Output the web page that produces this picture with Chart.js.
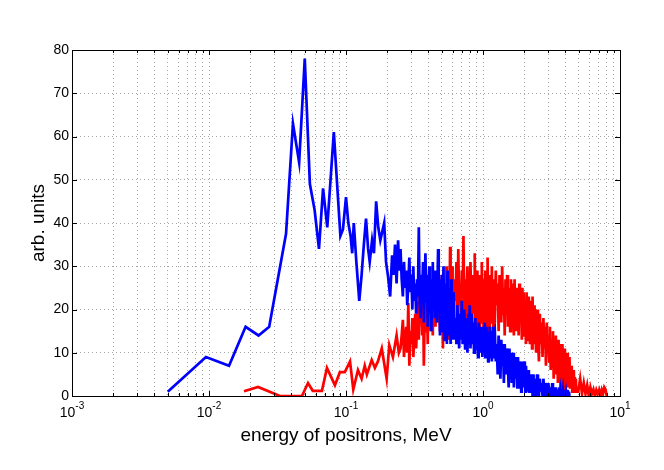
<!doctype html>
<html>
<head>
    <title>Positron spectra</title>
    <script src="https://cdn.jsdelivr.net/npm/chart.js"></script>
    <style>
        body { margin: 0; padding: 0; background: #ffffff; }
        #spectrum { display: block; }
    </style>
</head>
<body>
    <canvas id="spectrum" width="664" height="470"></canvas>
    <script>
        // blue spectrum, low energy part (MeV, arb. units)
        var blueLowEnergy = [0.005, 0.0095, 0.014, 0.0185, 0.023, 0.0275, 0.0365, 0.041, 0.0455, 0.05,
            0.0545, 0.059, 0.0635, 0.068, 0.073, 0.0815, 0.091, 0.095, 0.1, 0.104,
            0.108, 0.111, 0.114, 0.119, 0.125, 0.13, 0.135, 0.14, 0.145, 0.149,
            0.155, 0.16, 0.166, 0.172, 0.178, 0.184, 0.19, 0.196, 0.203, 0.21,
            0.217, 0.222, 0.228, 0.234, 0.24, 0.245];
        var blueLowCounts = [1, 9, 7, 16, 14, 16, 37.5, 63, 54, 78,
            49, 43, 34, 48, 39, 61, 37, 38.5, 46, 40,
            37, 33, 40, 31, 22, 28, 35, 41, 34, 31,
            36, 33, 45, 39, 36, 38, 40, 31, 27.5, 23,
            32.5, 28, 35, 26, 36, 29];

        // red spectrum, low energy part
        var redLowEnergy = [0.018, 0.0228, 0.033, 0.0477, 0.0528, 0.0572, 0.0667, 0.0726, 0.083, 0.0902,
            0.098, 0.107, 0.113, 0.1223, 0.13, 0.137, 0.142, 0.154, 0.1625, 0.171,
            0.1825, 0.198, 0.207, 0.22, 0.234, 0.243];
        var redLowCounts = [1.1, 2.1, 0, 0, 3, 1.2, 1.2, 6.5, 2.5, 5.5,
            5.5, 8, 1.5, 6, 4, 7, 5, 8.3, 6.5, 8,
            11, 4, 11.8, 9, 14, 10];

        // shared energies of the dense (noisy) part
        var denseEnergy = [
            0.250, 0.255, 0.260, 0.265, 0.270, 0.275, 0.280, 0.285, 0.290, 0.295,
            0.300, 0.305, 0.310, 0.315, 0.320, 0.325, 0.330, 0.335, 0.340, 0.345,
            0.350, 0.355, 0.360, 0.365, 0.370, 0.375, 0.380, 0.385, 0.390, 0.395,
            0.400, 0.405, 0.410, 0.415, 0.420, 0.425, 0.430, 0.435, 0.440, 0.445,
            0.450, 0.455, 0.460, 0.465, 0.470, 0.475, 0.480, 0.485, 0.490, 0.495,
            0.500, 0.505, 0.510, 0.515, 0.520, 0.525, 0.530, 0.535, 0.540, 0.545,
            0.550, 0.555, 0.560, 0.565, 0.570, 0.575, 0.580, 0.585, 0.590, 0.595,
            0.600,
            0.61, 0.62, 0.63, 0.64, 0.65, 0.66, 0.67, 0.68, 0.69, 0.70,
            0.71, 0.72, 0.73, 0.74, 0.75, 0.76, 0.77, 0.78, 0.79, 0.80,
            0.81, 0.82, 0.83, 0.84, 0.85, 0.86, 0.87, 0.88, 0.89, 0.90,
            0.91, 0.92, 0.93, 0.94, 0.95, 0.96, 0.97, 0.98, 0.99, 1.00,
            1.01, 1.02, 1.03, 1.04, 1.05, 1.06, 1.07, 1.08, 1.09, 1.10,
            1.11, 1.12, 1.13, 1.14, 1.15, 1.16, 1.17, 1.18, 1.19, 1.20,
            1.22, 1.24, 1.26, 1.28, 1.30, 1.32, 1.34, 1.36, 1.38, 1.40,
            1.42, 1.44, 1.46, 1.48, 1.50, 1.52, 1.54, 1.56, 1.58, 1.60,
            1.62, 1.64, 1.66, 1.68, 1.70, 1.72, 1.74, 1.76, 1.78, 1.80,
            1.82, 1.84, 1.86, 1.88, 1.90, 1.92, 1.94, 1.96, 1.98, 2.00,
            2.02, 2.04, 2.06, 2.08, 2.10, 2.12, 2.14, 2.16, 2.18, 2.20,
            2.22, 2.24, 2.26, 2.28, 2.30, 2.32, 2.34, 2.36, 2.38, 2.40,
            2.44, 2.48, 2.52, 2.56, 2.60, 2.64, 2.68, 2.72, 2.76, 2.80,
            2.84, 2.88, 2.92, 2.96, 3.00, 3.04, 3.08, 3.12, 3.16, 3.20,
            3.24, 3.28, 3.32, 3.36, 3.40, 3.44, 3.48, 3.52, 3.56, 3.60,
            3.64, 3.68, 3.72, 3.76, 3.80, 3.84, 3.88, 3.92, 3.96, 4.00,
            4.04, 4.08, 4.12, 4.16, 4.20, 4.24, 4.28, 4.32, 4.36, 4.40,
            4.44, 4.48, 4.52, 4.56, 4.60, 4.64, 4.68, 4.72, 4.76, 4.80,
            4.96, 5.12, 5.28, 5.44, 5.60, 5.76, 5.92, 6.08, 6.24, 6.40,
            6.56, 6.72, 6.88, 7.04, 7.20, 7.36, 7.52, 7.68, 7.84, 8.00];

        var blueDenseCounts = [
            34, 27, 23, 31, 25, 29, 21, 26, 32, 24,
            28, 20, 30, 22, 26, 19, 27, 23, 39, 21,
            18, 28, 24, 31, 17, 26, 33, 22, 28, 16,
            25, 30, 19, 27, 15, 24, 31, 20, 26, 18,
            29, 22, 17, 25, 34, 21, 27, 14, 23, 19,
            28, 15, 24, 30, 13, 21, 26, 16, 23, 12,
            29, 19, 14, 25, 17, 22, 12, 27, 15, 20,
            13,
            24, 13, 18, 12, 21, 16, 11, 19, 13, 22,
            12, 17, 20, 11, 18, 14, 10, 19, 12, 21,
            11, 16, 19, 12, 17, 10, 14, 18, 11, 16,
            12, 9, 17, 13, 10, 16, 11, 15, 9, 16,
            10, 15, 17, 9, 13, 16, 9, 15, 8, 14,
            10, 16, 9, 13, 15, 8, 12, 16, 9, 14,
            15, 8, 12, 5, 14, 9, 4, 13, 7, 12,
            3, 12, 8, 5, 11, 7, 2, 11, 5, 10,
            3, 9, 10, 2, 7, 9, 4, 8, 2, 9,
            5, 2, 8, 6, 1, 8, 3, 7, 2, 8,
            4, 1, 7, 3, 6, 1, 5, 6, 1, 4,
            5, 1, 3, 5, 0, 5, 2, 4, 0, 4,
            0, 5, 2, 0, 4, 1, 3, 0, 4, 1,
            0, 3, 2, 0, 3, 1, 0, 2, 0, 3,
            1, 0, 2, 0, 2, 0.5, 0, 1.5, 0, 2,
            0, 1.4, 0, 1, 0, 1.4, 0, 0.5, 1.4, 0,
            1, 0, 1.4, 0, 0.5, 1, 0, 0];

        var redDenseCounts = [
            11, 14, 17.6, 9, 13, 16, 10, 21.5, 7, 15,
            12, 18, 9, 14, 19, 11, 16, 22, 13, 24.5,
            17, 20, 14, 23, 7, 18, 29, 15, 21, 12,
            24, 17, 22, 15, 25, 19, 14, 23, 18, 26,
            16, 21, 28, 17, 23, 19, 27, 15, 22, 18,
            28, 20, 11, 24, 19, 27, 16, 23, 30, 18,
            25, 21, 13, 27, 20, 34.5, 22, 26, 17, 30,
            21,
            18, 27, 22, 31, 17, 34, 21, 26, 16, 29,
            23, 37, 19, 27, 17, 25, 30, 18, 26, 21,
            31, 22, 15, 28, 19, 25, 33, 18, 24, 16,
            29, 21, 26, 14, 28, 23, 17, 31, 20, 27,
            14, 25, 21, 29, 17, 26, 15, 32, 20, 24,
            15, 28, 21, 27, 17, 30, 19, 23, 15, 27,
            17, 29, 21, 26, 15, 28, 22, 17, 30, 19,
            25, 14, 27, 20, 28, 16, 25, 21, 15, 27,
            17, 26, 22, 14, 27, 19, 24, 15, 25, 20,
            14, 26, 17, 23, 21, 13, 25, 16, 24, 14,
            22, 18, 12, 24, 15, 21, 13, 23, 17, 12,
            22, 14, 20, 11, 23, 16, 12, 21, 14, 19,
            10, 20, 13, 8, 19, 12, 17, 9, 18, 11,
            16, 7, 17, 10, 14, 8, 16, 6, 13, 9,
            15, 4, 12, 7, 14, 5, 11, 3, 13, 5,
            12, 2, 10, 5, 12, 1, 9, 4, 11, 1,
            8, 5, 10, 2, 7, 4, 9, 2, 6, 4,
            7, 1, 5, 3, 6, 1, 4.4, 2, 4, 1,
            1, 4, 0.5, 3, 0.5, 2.5, 0, 2, 0.5, 1.5,
            0, 1.4, 0.5, 1.4, 0, 1.4, 0.5, 2, 1.5, 0];

        var xDecades = [-3, -2, -1, 0, 1];
        var xMinorSteps = [1, 2, 3, 4, 5, 6, 7, 8, 9];
        var yTicks = [0, 10, 20, 30, 40, 50, 60, 70, 80];

        var FONT = '"Liberation Sans", Arial, Helvetica, sans-serif';

        function toPoints(energy, counts) {
            var pts = [];
            for (var i = 0; i < counts.length; i++) pts.push({ x: energy[i], y: counts[i] });
            return pts;
        }

        var bluePoints = toPoints(blueLowEnergy, blueLowCounts).concat(toPoints(denseEnergy, blueDenseCounts));
        var redPoints = toPoints(redLowEnergy, redLowCounts).concat(toPoints(denseEnergy, redDenseCounts));

        var xGridValues = [];
        xDecades.forEach(function (e) {
            if (e === 1) { xGridValues.push(10); return; }
            xMinorSteps.forEach(function (m) { xGridValues.push(m * Math.pow(10, e)); });
        });

        // MATLAB style box, inward ticks and 10^n labels
        var axesBox = {
            id: 'axesBox',
            afterDraw: function (chart) {
                var ctx = chart.ctx, a = chart.chartArea, x = chart.scales.x, y = chart.scales.y;
                ctx.save();
                ctx.strokeStyle = '#000';
                ctx.lineWidth = 1;
                ctx.beginPath();
                xGridValues.forEach(function (v) {
                    var px = Math.round(x.getPixelForValue(v)) + 0.5;
                    var major = Math.abs(Math.log10(v) - Math.round(Math.log10(v))) < 1e-6;
                    var len = major ? 5 : 3;
                    ctx.moveTo(px, a.bottom); ctx.lineTo(px, a.bottom - len);
                    ctx.moveTo(px, a.top); ctx.lineTo(px, a.top + len);
                });
                yTicks.forEach(function (v) {
                    var py = Math.round(y.getPixelForValue(v)) + 0.5;
                    ctx.moveTo(a.left, py); ctx.lineTo(a.left + 5, py);
                    ctx.moveTo(a.right, py); ctx.lineTo(a.right - 5, py);
                });
                ctx.stroke();
                ctx.strokeRect(Math.round(a.left) + 0.5, Math.round(a.top) + 0.5,
                    Math.round(a.right - a.left), Math.round(a.bottom - a.top));

                ctx.fillStyle = '#000';
                ctx.textAlign = 'left';
                ctx.textBaseline = 'alphabetic';
                xDecades.forEach(function (e) {
                    var px = x.getPixelForValue(Math.pow(10, e));
                    var sup = e < 0 ? '-' + (-e) : String(e);
                    ctx.font = '14px ' + FONT;
                    var w1 = ctx.measureText('10').width;
                    ctx.font = '10px ' + FONT;
                    var w2 = ctx.measureText(sup).width;
                    var left = px - (w1 + w2) / 2;
                    ctx.font = '14px ' + FONT;
                    ctx.fillText('10', left, a.bottom + 21);
                    ctx.font = '10px ' + FONT;
                    ctx.fillText(sup, left + w1, a.bottom + 12.5);
                });
                ctx.restore();
            }
        };

        var gridStyle = { color: 'rgba(0,0,0,0.35)', lineWidth: 1, drawTicks: false };

        new Chart(document.getElementById('spectrum').getContext('2d'), {
            type: 'line',
            data: {
                datasets: [{
                    label: 'blue',
                    data: bluePoints,
                    borderColor: '#0000ff',
                    borderWidth: 2.7,
                    pointRadius: 0,
                    fill: false
                }, {
                    label: 'red',
                    data: redPoints,
                    borderColor: '#ff0000',
                    borderWidth: 2.7,
                    pointRadius: 0,
                    fill: false
                }]
            },
            options: {
                responsive: false,
                animation: false,
                layout: { padding: { left: 27, right: 44, top: 50, bottom: 23 } },
                plugins: { legend: { display: false }, tooltip: { enabled: false } },
                scales: {
                    x: {
                        type: 'logarithmic',
                        min: 0.001,
                        max: 10,
                        afterBuildTicks: function (scale) {
                            scale.ticks = xGridValues.map(function (v) { return { value: v }; });
                        },
                        afterFit: function (scale) { scale.height = 51; },
                        ticks: { display: false, autoSkip: false },
                        grid: gridStyle,
                        border: { display: false, dash: [1, 3] },
                        title: {
                            display: true,
                            text: 'energy of positrons, MeV',
                            color: '#000',
                            padding: 0,
                            font: { family: FONT, size: 19 }
                        }
                    },
                    y: {
                        min: 0,
                        max: 80,
                        afterFit: function (scale) { scale.width = 45; },
                        ticks: { stepSize: 10, color: '#000', padding: 3, font: { family: FONT, size: 14 } },
                        grid: gridStyle,
                        border: { display: false, dash: [1, 3] },
                        title: {
                            display: true,
                            text: 'arb. units',
                            color: '#000',
                            padding: 0,
                            font: { family: FONT, size: 19 }
                        }
                    }
                }
            },
            plugins: [axesBox]
        });
    </script>
</body>
</html>
